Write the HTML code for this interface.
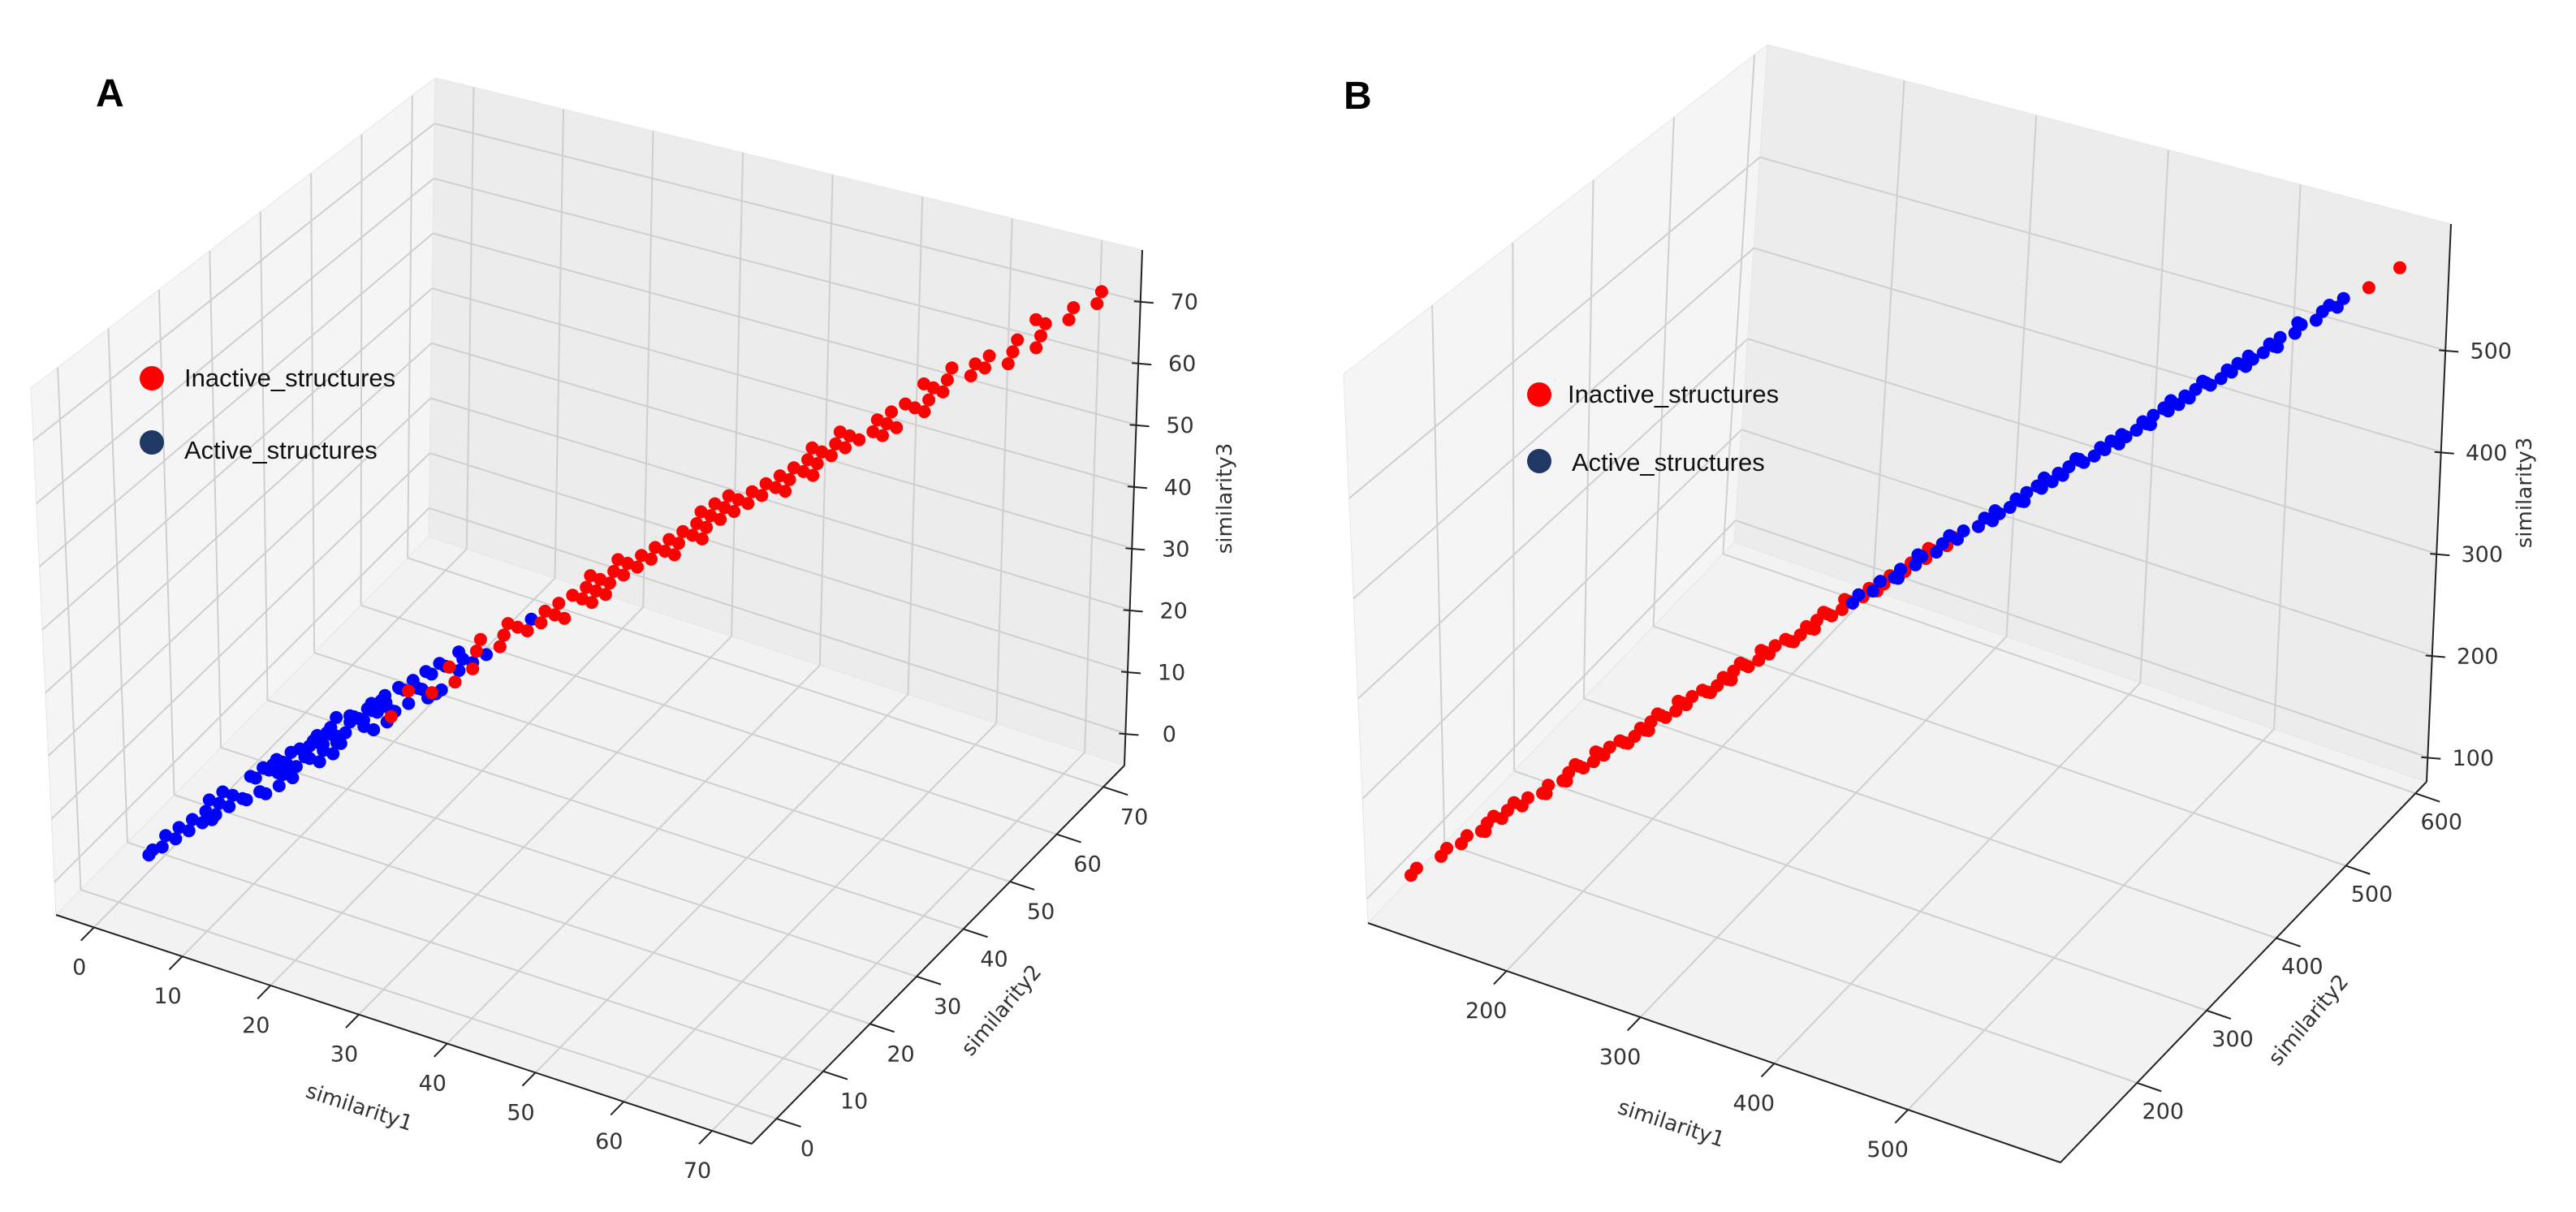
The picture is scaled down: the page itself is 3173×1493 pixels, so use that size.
<!DOCTYPE html>
<html><head><meta charset="utf-8">
<style>
html,body{margin:0;padding:0;background:#fff;}
svg{display:block;}
.tick{font-family:"DejaVu Sans","Liberation Sans",sans-serif;font-size:27px;fill:#333;}
.alab{font-family:"DejaVu Sans","Liberation Sans",sans-serif;font-size:26px;fill:#333;}
.leg{font-family:"Liberation Sans",sans-serif;font-size:31px;fill:#111;}
.plab{font-family:"Liberation Sans",sans-serif;font-size:48px;font-weight:bold;fill:#000;}
</style></head>
<body>
<svg id="fig" width="3173" height="1493" viewBox="0 0 3173 1493" xmlns="http://www.w3.org/2000/svg">
<rect width="3173" height="1493" fill="#fff"/>
<g id="panelA"></g>
<g id="panelB"></g>
<text class="plab" x="118" y="131">A</text>
<text class="plab" x="1655" y="134">B</text>
<g>
<circle cx="187" cy="466" r="15" fill="#ff0000"/>
<text class="leg" x="227" y="476">Inactive_structures</text>
<circle cx="187" cy="545" r="15" fill="#203864"/>
<text class="leg" x="227" y="565">Active_structures</text>
</g>
<g>
<circle cx="1896" cy="486" r="15" fill="#ff0000"/>
<text class="leg" x="1931" y="496">Inactive_structures</text>
<circle cx="1896" cy="568" r="15" fill="#203864"/>
<text class="leg" x="1936" y="580">Active_structures</text>
</g>
</svg>
<script>
// ---------- Panel A data ----------
const aXTicks = [0,10,20,30,40,50,60,70];
const aYTicks = [0,10,20,30,40,50,60,70];
const aZTicks = [0,10,20,30,40,50,60,70];
const aActiveS1 = [2,3,3,4,4,5,5,6,6,7,7,8,8,9,9,10,10,10,11,11,11,12,12,12,13,13,13,13,14,14,14,14,15,15,15,15,16,16,16,16,17,17,17,17,18,18,18,18,19,19,19,20,20,20,21,21,21,22,22,22,23,23,24,24,25,25,26,26,27,28,29,30,31,32,27,25,20,16,12,8,
  6,8,10,12,14,16,18,20,22,24,9,11,13,15,17,19,21,23,25,13,15,17,19,14,16,18,20,12,22,24];
const aActiveS2 = [3,2,4,3,5,4,6,5,7,6,8,7,9,8,10,9,11,10,10,12,11,13,11,12,12,14,13,12,15,13,14,15,14,16,15,16,15,17,16,17,16,18,17,18,17,19,18,19,18,20,19,19,21,20,20,22,21,21,23,22,22,24,23,25,24,26,25,27,26,29,28,31,30,33,28,26,19,17,13,9,
  9,5,13,9,17,13,21,17,25,21,6,14,10,18,14,22,18,26,22,10,18,14,22,17,13,21,17,15,19,27];
const aActiveS3 = [1,3,2,5,3,6,4,7,5,8,6,9,7,10,8,9,11,12,10,12,13,11,14,12,13,12,15,14,13,16,14,15,17,14,16,15,18,16,17,19,16,18,17,19,20,17,19,18,21,19,20,22,19,21,20,22,23,21,22,24,23,24,22,25,26,24,27,25,28,27,30,29,32,31,26,27,21,15,13,7,
  4,11,7,15,11,19,15,23,19,27,12,8,16,12,20,16,24,20,28,16,12,20,16,11,19,15,23,9,25,21];
const aInactiveS1 = [20,22,23,25,26,27,28,29,30,30,31,32,32,33,34,34,35,35,36,36,37,37,38,38,39,39,40,40,41,41,42,42,43,43,44,44,45,45,46,46,47,47,48,48,49,49,50,50,51,51,52,52,53,53,54,54,55,56,56,57,58,58,59,60,60,61,62,63,63,64,65,66,67,68,69,70,71,72,43,38,
  24,28,32,36,40,44,48,52,56,60,64,68,30,34,38,42,46,50,54,58,62,66,35,45,55];
const aInactiveS2 = [21,21,24,24,27,26,29,28,31,29,32,31,33,32,35,33,36,34,37,35,38,36,39,37,40,38,41,39,42,40,43,41,44,42,45,43,46,44,47,45,48,46,49,47,50,48,51,49,52,50,53,51,54,52,55,53,56,55,57,56,59,57,60,59,61,60,63,62,64,63,66,65,68,67,70,69,72,71,44,37,
  27,25,35,33,43,41,51,49,59,57,67,65,27,37,35,45,43,53,51,61,59,69,38,42,58];
const aInactiveS3 = [18,23,21,26,24,28,27,30,29,31,30,33,31,34,33,35,34,36,35,37,36,38,37,39,38,40,39,41,40,42,41,43,42,44,43,45,44,46,45,47,46,48,47,49,48,50,49,51,50,52,51,53,52,54,53,55,54,57,55,58,57,59,58,61,59,62,61,64,62,65,64,67,66,69,68,71,70,73,42,39,
  21,31,29,39,37,47,45,55,53,63,61,71,33,31,41,39,49,47,57,55,65,63,32,48,52];

// ---------- Panel B data ----------
const bXTicks = [200,300,400,500];
const bYTicks = [200,300,400,500,600];
const bZTicks = [100,200,300,400,500];
const bInactiveS1 = [115,120,130,135,140,145,150,155,160,165,170,175,180,185,190,195,200,200,205,210,210,215,220,220,225,230,230,235,240,240,245,250,250,255,260,260,265,270,270,275,280,280,285,290,290,295,300,300,305,310,310,315,320,320,325,330,335,340,345,350,355,360,365,370,375,380,390,400,410,420,430,440,450,460,470,575,590,345,355,330,
  150,170,190,210,230,250,270,290,310,330,350,370,160,180,200,220,240,260,280,300,320,340];
const bInactiveS2 = [118,117,133,132,143,142,153,152,163,162,173,172,183,182,193,192,203,197,208,207,213,212,223,217,228,227,233,232,243,237,248,247,253,252,263,257,268,267,273,272,283,277,288,287,293,292,303,297,308,307,313,312,323,317,328,327,338,337,348,347,358,357,368,367,378,377,393,397,413,417,433,437,453,457,473,578,592,342,358,333,
  158,162,198,202,238,242,278,282,318,322,358,362,152,188,192,228,232,268,272,308,312,348];
const bInactiveS3 = [112,122,127,138,137,148,147,158,157,168,167,178,177,188,187,198,197,203,202,213,207,218,217,223,222,233,227,238,237,243,242,253,247,258,257,263,262,273,267,278,277,283,282,293,287,298,297,303,302,313,307,318,317,323,322,333,332,343,342,353,352,363,362,373,372,383,387,403,407,423,427,443,447,463,467,572,588,348,352,327,
  143,178,183,218,223,258,263,298,303,338,343,378,167,173,208,213,248,253,288,293,328,333];
const bActiveS1 = [330,335,340,345,350,355,360,365,370,375,380,385,390,395,400,400,405,410,410,415,420,420,425,430,430,435,440,440,445,450,450,455,460,460,465,470,470,475,480,480,485,490,490,495,500,500,505,510,510,515,520,520,525,530,530,535,540,545,550,555,560,565,400,420,440,460,480,500,520,540,
  350,380,410,440,470,500,530,560,365,395,425,455,485,515,545];
const bActiveS2 = [333,332,342,343,353,352,363,362,373,372,383,382,393,392,403,397,408,407,413,412,423,417,428,427,433,432,443,437,448,447,453,452,463,457,468,467,473,472,483,477,488,487,493,492,503,497,508,507,513,512,523,517,528,527,533,532,543,542,553,552,563,562,397,423,437,463,477,503,517,543,
  358,372,418,432,478,492,538,552,357,403,417,463,477,523,537];
const bActiveS3 = [327,338,337,348,347,358,357,368,367,378,377,388,387,398,397,403,402,413,407,418,417,423,422,433,427,438,437,443,442,453,447,458,457,463,462,473,467,478,477,483,482,493,487,498,497,503,502,513,507,518,517,523,522,533,527,538,537,548,547,558,557,568,404,417,444,457,484,497,524,537,
  343,388,403,448,463,508,523,566,373,388,433,448,493,508,553];

const NS = "http://www.w3.org/2000/svg";
function mk(tag, attrs, parent){
  const e = document.createElementNS(NS, tag);
  for (const k in attrs) e.setAttribute(k, attrs[k]);
  parent.appendChild(e);
  return e;
}

function buildPanel(g, cfg, xT, yT, zT, series, prefix){
  const C = cfg.corners;
  function bil(P00,P10,P11,P01,u,v,i){
    return (1-u)*(1-v)*P00[i] + u*(1-v)*P10[i] + u*v*P11[i] + (1-u)*v*P01[i];
  }
  function proj(x,y,z){
    const u=(x-cfg.xr[0])/(cfg.xr[1]-cfg.xr[0]);
    const v=(y-cfg.yr[0])/(cfg.yr[1]-cfg.yr[0]);
    const w=(z-cfg.zr[0])/(cfg.zr[1]-cfg.zr[0]);
    const bx=bil(C.B000,C.B100,C.B110,C.B010,u,v,0), by=bil(C.B000,C.B100,C.B110,C.B010,u,v,1);
    const tx=bil(C.T000,C.T100,C.T110,C.T010,u,v,0), ty=bil(C.T000,C.T100,C.T110,C.T010,u,v,1);
    return [bx+(tx-bx)*w, by+(ty-by)*w];
  }
  const [x0,x1]=cfg.xr,[y0,y1]=cfg.yr,[z0,z1]=cfg.zr;
  function poly(pts, fill, name){
    const p = mk('polygon',{points:pts.map(q=>q.join(',')).join(' '),fill:fill,stroke:'#e6e6e6','stroke-width':1},g);
    
    
  }
  poly([proj(x0,y0,z0),proj(x1,y0,z0),proj(x1,y1,z0),proj(x0,y1,z0)],'#f2f2f2',prefix+'floor-pane');
  poly([proj(x0,y1,z0),proj(x1,y1,z0),proj(x1,y1,z1),proj(x0,y1,z1)],'#ececec',prefix+'back-pane');
  poly([proj(x0,y0,z0),proj(x0,y1,z0),proj(x0,y1,z1),proj(x0,y0,z1)],'#f5f5f5',prefix+'left-pane');
  function line(a,b,stroke,sw,name){
    const l = mk('line',{x1:a[0],y1:a[1],x2:b[0],y2:b[1],stroke:stroke,'stroke-width':sw},g);
    
    
  }
  const gc='#cfcfcf', gw=2;
  xT.forEach(x=>{
    line(proj(x,y0,z0),proj(x,y1,z0),gc,gw,prefix+'grid-floor-x');
    line(proj(x,y1,z0),proj(x,y1,z1),gc,gw,prefix+'grid-back-x');
  });
  yT.forEach(y=>{
    line(proj(x0,y,z0),proj(x1,y,z0),gc,gw,prefix+'grid-floor-y');
    line(proj(x0,y,z0),proj(x0,y,z1),gc,gw,prefix+'grid-left-y');
  });
  zT.forEach(z=>{
    line(proj(x0,y1,z),proj(x1,y1,z),gc,gw,prefix+'grid-back-z');
    line(proj(x0,y0,z),proj(x0,y1,z),gc,gw,prefix+'grid-left-z');
  });
  const ac='#222', aw=2;
  line(proj(x0,y0,z0),proj(x1,y0,z0),ac,aw,prefix+'x-axis-line');
  line(proj(x1,y0,z0),proj(x1,y1,z0),ac,aw,prefix+'y-axis-line');
  line(proj(x1,y1,z0),proj(x1,y1,z1),ac,aw,prefix+'z-axis-line');
  const dy=(y1-y0)*0.035, dx=(x1-x0)*0.035;
  xT.forEach(x=>{
    const a=proj(x,y0,z0), b=proj(x,y0-dy,z0);
    line(a,b,ac,2,prefix+'x-tick');
    const t=mk('text',{class:'tick',x:a[0]+cfg.xOff[0],y:a[1]+cfg.xOff[1],'text-anchor':'middle'},g);
    t.textContent=x;
    
    
  });
  yT.forEach(y=>{
    const a=proj(x1,y,z0), b=proj(x1+dx,y,z0);
    line(a,b,ac,2,prefix+'y-tick');
    const t=mk('text',{class:'tick',x:a[0]+cfg.yOff[0],y:a[1]+cfg.yOff[1],'text-anchor':'middle'},g);
    t.textContent=y;
    
    
  });
  zT.forEach(z=>{
    const a=proj(x1,y1,z);
    line([a[0]-8,a[1]],[a[0]+16,a[1]+2],ac,2,prefix+'z-tick');
    const t=mk('text',{class:'tick',x:a[0]+cfg.zOff[0],y:a[1]+cfg.zOff[1],'text-anchor':'middle'},g);
    t.textContent=z;
    
    
  });
  cfg.titles.forEach(tt=>{
    const t=mk('text',{class:'alab',x:tt[1],y:tt[2],'text-anchor':'middle',transform:'rotate('+tt[3]+' '+tt[1]+' '+tt[2]+')'},g);
    t.textContent=tt[0];
    
    
  });
  series.forEach(s=>{
    const sg=mk('g',{},g);
    
    
    for(let i=0;i<s.x.length;i++){
      const p=proj(s.x[i],s.y[i],s.z[i]);
      const c=mk('circle',{cx:p[0].toFixed(1),cy:p[1].toFixed(1),r:8,fill:s.color},sg);
      
      
    }
  });
}

buildPanel(document.getElementById('panelA'), {
  xr:[-4.3,74.5], yr:[-5.3,74.5], zr:[-5.2,78.3],
  corners:{B000:[69,1127],B100:[926,1409],B110:[1385,943],B010:[528,661],
           T000:[38,478],T100:[926,709],T110:[1407,308],T010:[536,96]},
  xOff:[-18,58], yOff:[38,46], zOff:[54,10],
  titles:[['similarity1',440,1372,18,'x-axis-title'],['similarity2',1240,1250,-50,'y-axis-title'],['similarity3',1517,614,-90,'z-axis-title']]
}, aXTicks, aYTicks, aZTicks, [
  {name:'active-structures',x:aActiveS1,y:aActiveS2,z:aActiveS3,color:'#0000ff'},
  {name:'inactive-structures',x:aInactiveS1,y:aInactiveS2,z:aInactiveS3,color:'#ff0000'}
], 'a-');

buildPanel(document.getElementById('panelB'), {
  xr:[96.4,614], yr:[90,616], zr:[75.9,624],
  corners:{B000:[1685,1137],B100:[2538,1432],B110:[2989,963],B010:[2136,668],
           T000:[1655,461],T100:[2538,692],T110:[3019,276],T010:[2177,55]},
  xOff:[-25,58], yOff:[32,44], zOff:[56,10],
  titles:[['similarity1',2056,1392,18,'x-axis-title'],['similarity2',2850,1262,-50,'y-axis-title'],['similarity3',3118,607,-90,'z-axis-title']]
}, bXTicks, bYTicks, bZTicks, [
  {name:'inactive-structures',x:bInactiveS1,y:bInactiveS2,z:bInactiveS3,color:'#ff0000'},
  {name:'active-structures',x:bActiveS1,y:bActiveS2,z:bActiveS3,color:'#0000ff'}
], 'b-');
</script>
</body></html>
